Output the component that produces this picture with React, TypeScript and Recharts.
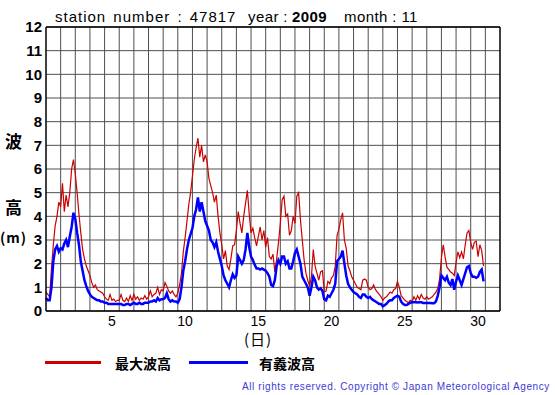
import React from 'react';
import { LineChart, Line, XAxis, YAxis, CartesianGrid, ReferenceLine } from 'recharts';

// 3-hourly readings, Nov 2009, station 47817 (one row = one day)
const STEP_HOURS = 3;

const maxWave = [
  0.8, 0.7, 0.6, 1.8, 2.8, 3.6, 4.0, 4.6,
  4.4, 5.4, 4.2, 4.9, 4.4, 5.0, 6.0, 6.4,
  5.8, 5.0, 4.1, 3.3, 2.6, 2.2, 1.9, 1.7,
  1.5, 1.2, 1.0, 1.1, 0.9, 0.85, 0.8, 0.75,
  0.6, 0.5, 0.45, 0.7, 0.45, 0.5, 0.4, 0.45,
  0.45, 0.7, 0.45, 0.4, 0.55, 0.4, 0.65, 0.45,
  0.7, 0.5, 0.6, 0.45, 0.55, 0.5, 0.65, 0.5,
  0.6, 0.85, 0.6, 0.7, 0.75, 1.0, 0.7, 0.9,
  0.85, 1.2, 1.05, 0.85, 0.75, 0.85, 0.7, 0.6,
  0.75, 1.1, 1.6, 2.5, 3.1, 3.8, 4.5, 5.0,
  5.7, 6.4, 6.9, 7.3, 6.5, 7.0, 6.3, 6.6,
  6.3, 5.6, 5.3, 5.0, 4.6, 4.9, 4.0, 3.3,
  2.8, 2.2, 2.55, 1.9, 1.75, 2.2, 2.75, 2.8,
  3.4, 4.2, 3.7, 3.3, 4.0, 4.55, 5.1, 4.1,
  3.3, 3.5, 3.1, 2.75, 3.15, 3.55, 3.0, 3.4,
  2.7, 3.1, 2.3, 2.2, 2.4, 1.65, 2.2, 2.9,
  3.7, 4.7, 4.85, 4.0, 4.1, 3.2, 3.4, 4.0,
  3.7, 4.85, 5.0, 3.85, 3.0, 2.15, 1.6, 1.3,
  1.05, 1.45, 2.6, 1.9, 1.6, 1.3, 1.65, 1.7,
  0.8, 0.85, 1.25, 1.15, 1.4, 1.5, 1.9, 3.2,
  3.45, 3.85, 4.15, 3.0, 2.65, 1.9, 1.7, 1.45,
  1.3, 1.15, 1.0, 0.95, 0.9, 1.3, 1.35, 1.3,
  1.0, 0.9, 0.95, 1.1, 0.9, 0.8, 0.7, 0.6,
  0.45, 0.55, 0.6, 0.7, 0.8, 0.75, 0.9, 0.95,
  1.25, 1.0, 0.65, 0.55, 0.45, 0.4, 0.35, 0.45,
  0.4, 0.6, 0.45, 0.65, 0.5, 0.7, 0.55, 0.5,
  0.6, 0.5, 0.55, 0.6, 0.7, 0.8, 0.95, 1.35,
  2.25, 2.8, 2.3, 1.85, 1.75, 1.65, 1.6, 1.5,
  2.05, 2.5, 2.25, 2.5, 2.2, 2.8, 3.3, 3.4,
  2.9, 2.6, 2.9, 2.95, 2.3, 2.8, 2.55, 1.9,
];

const sigWave = [
  0.55, 0.45, 0.45, 1.0, 2.1, 2.6, 2.75, 2.5,
  2.65, 2.6, 2.85, 3.0, 2.7, 3.15, 3.55, 4.15,
  3.9, 3.3, 2.8, 2.1, 1.7, 1.3, 1.05, 0.85,
  0.7, 0.6, 0.55, 0.5, 0.45, 0.45, 0.4, 0.4,
  0.35, 0.35, 0.3, 0.3, 0.3, 0.3, 0.3, 0.3,
  0.3, 0.3, 0.25, 0.25, 0.3, 0.3, 0.25, 0.3,
  0.35, 0.3, 0.3, 0.35, 0.3, 0.3, 0.35, 0.35,
  0.35, 0.4, 0.4, 0.45, 0.4, 0.55, 0.45, 0.5,
  0.5, 0.55, 0.75, 0.5, 0.4, 0.45, 0.4, 0.4,
  0.35, 0.5, 1.0, 1.7, 2.1, 2.6, 3.0, 3.25,
  3.5, 4.0, 4.3, 4.8, 4.2, 4.6, 4.2, 3.8,
  3.6, 3.4, 3.0, 2.9, 2.7, 2.9, 2.5, 2.2,
  1.9, 1.5, 1.3, 1.15, 1.0, 1.3, 1.55, 1.4,
  1.5, 2.3, 2.15, 2.0, 2.15, 2.6, 3.3, 2.7,
  2.3, 2.15, 1.95, 1.8, 1.8, 1.75, 1.8, 1.75,
  1.7, 1.6, 1.45, 1.1, 1.05, 1.3, 1.9, 2.15,
  2.0, 2.3, 2.3, 2.0, 2.1, 1.8, 1.8, 2.1,
  2.45, 2.6, 2.3, 2.0, 1.45, 1.3, 1.15, 1.0,
  0.65, 1.0, 1.45, 1.3, 1.0, 0.9, 0.95, 0.85,
  0.5, 0.45, 0.65, 0.6, 0.75, 0.9, 1.15, 2.1,
  2.2, 2.3, 2.55, 2.0, 1.5, 1.15, 1.0, 0.9,
  0.8, 0.75, 0.7, 0.6, 0.55, 0.7, 0.7, 0.6,
  0.55, 0.6, 0.5, 0.45, 0.4, 0.35, 0.3, 0.3,
  0.2, 0.25, 0.3, 0.4, 0.45, 0.45, 0.55, 0.6,
  0.65, 0.6, 0.4, 0.3, 0.25, 0.25, 0.3, 0.35,
  0.37, 0.37, 0.37, 0.36, 0.37, 0.37, 0.34, 0.34,
  0.34, 0.34, 0.34, 0.33, 0.33, 0.4, 0.65, 1.0,
  1.5, 1.4, 1.3, 1.45, 1.2, 1.1, 1.35, 0.9,
  1.25, 1.5, 1.3, 1.1, 1.35, 1.6, 1.85, 1.9,
  1.6, 1.45, 1.45, 1.4, 1.45, 1.65, 1.75, 1.25,
];

const dayTicks = [5, 10, 15, 20, 25, 30];
const dayLines = [1, 2, 3, 4, 5, 6, 7, 8, 9, 10, 11, 12, 13, 14, 15, 16, 17, 18, 19, 20, 21, 22, 23, 24, 25, 26, 27, 28, 29, 30];
const waveTicks = [0, 1, 2, 3, 4, 5, 6, 7, 8, 9, 10, 11, 12];
const DAYS_SHOWN = 31;

const RED = '#cc0000';
const BLUE = '#0000ff';
const GRID = '#505050';
const latin = '"Liberation Sans", Arial, sans-serif';
const cjk = '"Noto Sans CJK JP", sans-serif';

const data = maxWave.map((v, i) => ({ hour: i * STEP_HOURS, max: v, sig: sigWave[i] }));

const abs = (left: number, top: number, extra: React.CSSProperties = {}): React.CSSProperties => ({
  position: 'absolute',
  left,
  top,
  whiteSpace: 'nowrap',
  ...extra,
});

const titleFont: React.CSSProperties = { fontFamily: latin, fontSize: 15, lineHeight: '15px', letterSpacing: 0.4 };

export default function App() {
  return (
    <div style={{ position: 'absolute', left: 0, top: 0, width: 555, height: 395, background: '#fff' }}>
      <LineChart
        width={555}
        height={395}
        data={data}
        margin={{ top: 27, right: 55, bottom: 54, left: 6 }}
      >
        <CartesianGrid vertical={false} stroke={GRID} strokeWidth={1} />
        {dayLines.map((d) => (
          <ReferenceLine key={d} x={d * 24} stroke={GRID} strokeWidth={1} />
        ))}
        <XAxis
          dataKey="hour"
          type="number"
          domain={[0, DAYS_SHOWN * 24]}
          ticks={dayTicks.map((d) => (d - 0.5) * 24)}
          tickFormatter={(h: number) => String(Math.round(h / 24 + 0.5))}
          interval={0}
          height={30}
          axisLine={false}
          tickLine={false}
          tickSize={3}
          tickMargin={2}
          tick={{ fill: '#000', fontSize: 14, fontFamily: latin }}
        />
        <YAxis
          domain={[0, 12]}
          ticks={waveTicks}
          interval={0}
          width={40}
          axisLine={false}
          tickLine={false}
          tickSize={2}
          tickMargin={2}
          tick={{ fill: '#000', fontSize: 15, fontWeight: 'bold', fontFamily: latin }}
        />
        <Line
          dataKey="max"
          stroke={RED}
          strokeWidth={1.2}
          dot={false}
          type="linear"
          isAnimationActive={false}
        />
        <Line
          dataKey="sig"
          stroke={BLUE}
          strokeWidth={2.5}
          dot={false}
          type="linear"
          isAnimationActive={false}
        />
        <ReferenceLine y={0} stroke="#000" strokeWidth={1.5} />
        <ReferenceLine y={12} stroke="#000" strokeWidth={1.5} />
        <ReferenceLine x={0} stroke="#000" strokeWidth={1.5} />
        <ReferenceLine x={DAYS_SHOWN * 24} stroke="#000" strokeWidth={1.5} />
      </LineChart>

      <div style={abs(55, 9, { ...titleFont, letterSpacing: 1.0, wordSpacing: 2 })}>station number : 47817</div>
      <div style={abs(248, 9, titleFont)}>year :</div>
      <div style={abs(292, 9, { ...titleFont, fontWeight: 'bold' })}>2009</div>
      <div style={abs(344, 9, titleFont)}>month : 11</div>

      <div style={abs(5, 132, { fontFamily: cjk, fontSize: 17, fontWeight: 'bold', lineHeight: '18px' })}>波</div>
      <div style={abs(5, 198, { fontFamily: cjk, fontSize: 17, fontWeight: 'bold', lineHeight: '18px' })}>高</div>
      <div style={abs(0, 228, { fontFamily: cjk, fontSize: 14, fontWeight: 'bold', lineHeight: '18px', letterSpacing: 1 })}>(m)</div>

      <div style={abs(244, 332, { fontFamily: cjk, fontSize: 15, lineHeight: '14px', letterSpacing: 1 })}>(日)</div>

      <div style={abs(45, 361, { width: 56, height: 3, background: RED })} />
      <div style={abs(115, 354, { fontFamily: cjk, fontSize: 14, fontWeight: 'bold', lineHeight: '18px' })}>最大波高</div>
      <div style={abs(189, 361, { width: 59, height: 3, background: BLUE })} />
      <div style={abs(259, 354, { fontFamily: cjk, fontSize: 14, fontWeight: 'bold', lineHeight: '18px' })}>有義波高</div>

      <div style={abs(242, 381, { fontFamily: latin, fontSize: 10, lineHeight: '12px', color: '#3b3bd6', letterSpacing: 0.6 })}>
        All rights reserved. Copyright © Japan Meteorological Agency
      </div>
    </div>
  );
}
